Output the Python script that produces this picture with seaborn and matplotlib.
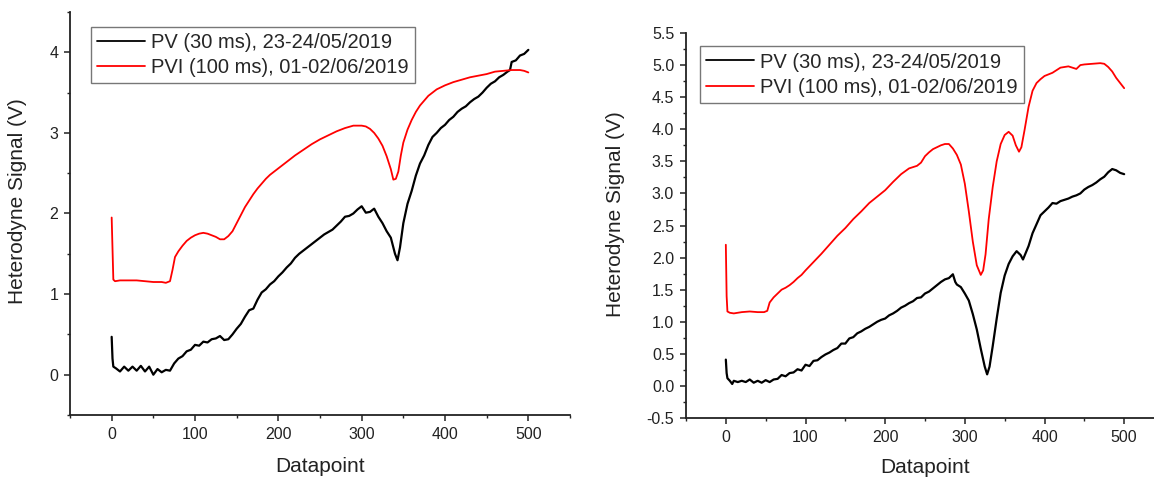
import matplotlib
matplotlib.use("Agg")
import matplotlib.pyplot as plt
import seaborn as sns
import pandas as pd
from matplotlib.ticker import MultipleLocator

# ---------------- data ----------------
labels = ["PV (30 ms), 23-24/05/2019", "PVI (100 ms), 01-02/06/2019"]
xlabel = "Datapoint"
ylabel = "Heterodyne Signal (V)"

# Left panel, PV (black)
left_pv_x = [0, 1, 2, 5, 10, 15, 20, 25, 30, 35, 40, 45, 50, 55, 60, 65, 70, 75, 80, 85,
             90, 95, 100, 105, 110, 115, 120, 125, 130, 135, 140, 145, 150, 155, 160, 165,
             170, 175, 180, 185, 190, 195, 200, 205, 210, 215, 220, 225, 230, 235, 240,
             245, 250, 255, 260, 265, 270, 275, 280, 285, 290, 295, 300, 305, 310, 315,
             320, 325, 330, 335, 340, 343, 346, 350, 355, 360, 365, 370, 375, 380, 385,
             390, 395, 400, 405, 410, 415, 420, 425, 430, 435, 440, 445, 450, 455, 460,
             465, 470, 475, 478, 480, 485, 490, 495, 500]
left_pv_y = [0.47, 0.20, 0.10, 0.08, 0.04, 0.10, 0.05, 0.10, 0.05, 0.11, 0.04, 0.10, 0.00,
             0.07, 0.03, 0.06, 0.05, 0.14, 0.20, 0.23, 0.29, 0.31, 0.37, 0.36, 0.41, 0.40,
             0.44, 0.45, 0.48, 0.43, 0.44, 0.50, 0.57, 0.63, 0.72, 0.80, 0.82, 0.93, 1.02,
             1.06, 1.12, 1.16, 1.22, 1.27, 1.33, 1.38, 1.45, 1.50, 1.54, 1.58, 1.62, 1.66,
             1.70, 1.74, 1.77, 1.80, 1.85, 1.90, 1.96, 1.97, 2.00, 2.05, 2.09, 2.01, 2.02,
             2.06, 1.96, 1.88, 1.78, 1.70, 1.50, 1.42, 1.58, 1.88, 2.12, 2.28, 2.47, 2.62,
             2.72, 2.85, 2.95, 3.00, 3.06, 3.10, 3.16, 3.20, 3.26, 3.30, 3.33, 3.38, 3.42,
             3.45, 3.50, 3.56, 3.61, 3.64, 3.69, 3.72, 3.76, 3.78, 3.88, 3.90, 3.96, 3.98,
             4.03]

# Left panel, PVI (red)
left_pvi_x = [0, 2, 4, 10, 20, 30, 40, 50, 60, 65, 70, 73, 76, 80, 85, 90, 95, 100, 105,
              110, 115, 120, 125, 130, 135, 140, 145, 150, 155, 160, 165, 170, 175, 180,
              185, 190, 195, 200, 210, 220, 230, 240, 250, 260, 270, 280, 290, 300, 305,
              310, 315, 320, 325, 330, 335, 338, 341, 344, 347, 350, 355, 360, 365, 370,
              375, 380, 385, 390, 400, 410, 420, 430, 440, 450, 460, 470, 480, 490, 495,
              500]
left_pvi_y = [1.95, 1.18, 1.16, 1.17, 1.17, 1.17, 1.16, 1.15, 1.15, 1.14, 1.16, 1.30, 1.46,
              1.53, 1.60, 1.66, 1.70, 1.73, 1.75, 1.76, 1.75, 1.73, 1.71, 1.68, 1.68, 1.72,
              1.78, 1.88, 1.98, 2.08, 2.16, 2.24, 2.31, 2.37, 2.43, 2.48, 2.52, 2.56, 2.64,
              2.72, 2.79, 2.86, 2.92, 2.97, 3.02, 3.06, 3.09, 3.09, 3.08, 3.05, 3.00, 2.93,
              2.84, 2.71, 2.55, 2.42, 2.43, 2.52, 2.72, 2.88, 3.04, 3.16, 3.26, 3.34, 3.40,
              3.46, 3.50, 3.54, 3.59, 3.63, 3.66, 3.69, 3.71, 3.73, 3.76, 3.77, 3.78, 3.78,
              3.77, 3.75]

# Right panel, PV (black)
right_pv_x = [0, 1, 2, 5, 8, 10, 15, 20, 25, 30, 35, 40, 45, 50, 55, 60, 65, 70, 75, 80,
              85, 90, 95, 100, 105, 110, 115, 120, 125, 130, 135, 140, 145, 150, 155, 160,
              165, 170, 175, 180, 185, 190, 195, 200, 205, 210, 215, 220, 225, 230, 235,
              240, 245, 250, 255, 260, 265, 270, 275, 280, 285, 288, 290, 295, 300, 305,
              310, 315, 320, 325, 328, 331, 335, 340, 345, 350, 355, 360, 365, 370, 373,
              376, 380, 385, 390, 395, 400, 405, 410, 415, 420, 425, 430, 435, 440, 445,
              450, 455, 460, 465, 470, 475, 480, 485, 490, 495, 500]
right_pv_y = [0.41, 0.20, 0.12, 0.08, 0.03, 0.08, 0.06, 0.08, 0.06, 0.10, 0.05, 0.08, 0.05,
              0.09, 0.06, 0.10, 0.11, 0.17, 0.15, 0.20, 0.21, 0.26, 0.24, 0.33, 0.31, 0.39,
              0.40, 0.45, 0.49, 0.52, 0.56, 0.59, 0.66, 0.66, 0.74, 0.76, 0.82, 0.85, 0.89,
              0.92, 0.96, 1.00, 1.03, 1.05, 1.10, 1.13, 1.17, 1.22, 1.25, 1.29, 1.32, 1.37,
              1.38, 1.44, 1.47, 1.52, 1.57, 1.62, 1.66, 1.68, 1.74, 1.62, 1.58, 1.54, 1.44,
              1.33, 1.12, 0.88, 0.58, 0.30, 0.18, 0.30, 0.62, 1.05, 1.45, 1.72, 1.90, 2.02,
              2.10, 2.04, 1.97, 2.06, 2.18, 2.38, 2.52, 2.66, 2.72, 2.78, 2.85, 2.84, 2.88,
              2.90, 2.92, 2.95, 2.97, 3.00, 3.06, 3.10, 3.13, 3.17, 3.22, 3.26, 3.33, 3.38,
              3.36, 3.32, 3.30]

# Right panel, PVI (red)
right_pvi_x = [0, 1, 2, 5, 10, 20, 30, 40, 48, 52, 55, 60, 65, 70, 75, 80, 85, 90, 95, 100,
               110, 120, 130, 140, 150, 160, 170, 180, 190, 200, 210, 220, 230, 240, 245,
               250, 255, 260, 265, 270, 275, 280, 285, 290, 295, 300, 305, 310, 315, 320,
               323, 326, 330, 335, 340, 345, 350, 355, 360, 364, 368, 371, 375, 380, 385,
               390, 395, 400, 410, 420, 430, 435, 440, 445, 450, 460, 470, 475, 480, 485,
               490, 495, 500]
right_pvi_y = [2.20, 1.40, 1.16, 1.14, 1.13, 1.15, 1.16, 1.15, 1.15, 1.17, 1.30, 1.38, 1.44,
               1.50, 1.53, 1.57, 1.62, 1.68, 1.73, 1.80, 1.93, 2.06, 2.20, 2.34, 2.46, 2.60,
               2.72, 2.85, 2.95, 3.05, 3.18, 3.30, 3.39, 3.43, 3.48, 3.58, 3.64, 3.69, 3.72,
               3.75, 3.77, 3.77, 3.70, 3.60, 3.45, 3.15, 2.72, 2.25, 1.88, 1.73, 1.80, 2.05,
               2.60, 3.10, 3.50, 3.77, 3.91, 3.96, 3.90, 3.75, 3.65, 3.72, 3.99, 4.35, 4.60,
               4.72, 4.78, 4.83, 4.88, 4.96, 4.98, 4.96, 4.94, 5.00, 5.01, 5.02, 5.03, 5.02,
               4.97, 4.90, 4.80, 4.72, 4.64]

# ---------------- style ----------------
sns.set_style("ticks")
plt.rcParams["font.family"] = ["Liberation Sans", "DejaVu Sans"]

W, H = 1154, 478
fig = plt.figure(figsize=(W / 100, H / 100), dpi=100)

def frame(l, t, r, b):
    return [l / W, 1 - b / H, (r - l) / W, (b - t) / H]

ax1 = fig.add_axes(frame(70, 12, 570, 415))
ax2 = fig.add_axes(frame(686, 33, 1164, 418))

palette = {labels[0]: "black", labels[1]: "#ff0000"}
widths = {labels[0]: 1.6, labels[1]: 1.3}

def df_of(xpv, ypv, xpvi, ypvi):
    a = pd.DataFrame({"x": xpv, "y": ypv, "series": labels[0]})
    b = pd.DataFrame({"x": xpvi, "y": ypvi, "series": labels[1]})
    return pd.concat([a, b], ignore_index=True)

panels = [
    (ax1, df_of(left_pv_x, left_pv_y, left_pvi_x, left_pvi_y), (-0.5, 4.5), 1, 0.5,
     None, (0.042, 0.963), (-0.086, 0.53), (0.5, -0.105)),
    (ax2, df_of(right_pv_x, right_pv_y, right_pvi_x, right_pvi_y), (-0.5, 5.5), 0.5, 0.25,
     "%.1f", (0.029, 0.965), (-0.128, 0.53), (0.5, -0.103)),
]

for ax, df, ylim, ymaj, ymin, fmt, legpos, ylc, xlc in panels:
    sns.lineplot(data=df, x="x", y="y", hue="series", palette=palette,
                 estimator=None, sort=False, linewidth=1.3, ax=ax)
    for line, lab in zip(ax.lines, labels):
        line.set_linewidth(widths[lab])
    ax.set_xlim(-50, 550)
    ax.set_ylim(*ylim)
    ax.xaxis.set_major_locator(MultipleLocator(100))
    ax.xaxis.set_minor_locator(MultipleLocator(50))
    ax.yaxis.set_major_locator(MultipleLocator(ymaj))
    ax.yaxis.set_minor_locator(MultipleLocator(ymin))
    if fmt:
        ax.yaxis.set_major_formatter(matplotlib.ticker.FormatStrFormatter(fmt))
    for s in ["top", "right"]:
        ax.spines[s].set_visible(False)
    for s in ["left", "bottom"]:
        ax.spines[s].set_linewidth(1.3)
        ax.spines[s].set_color("#222222")
    ax.tick_params(which="major", length=4.5, width=1.1, colors="#222222",
                   labelsize=11.5, pad=4)
    ax.tick_params(which="minor", length=2.5, width=1.0, colors="#222222")
    ax.set_xlabel(xlabel, fontsize=15, color="#222222")
    ax.set_ylabel(ylabel, fontsize=15, color="#222222")
    ax.yaxis.set_label_coords(*ylc)
    ax.xaxis.set_label_coords(*xlc)
    leg = ax.legend(loc="upper left", bbox_to_anchor=legpos, borderaxespad=0,
                    fontsize=14.5, frameon=True, fancybox=False, edgecolor="#555555",
                    handlelength=2.4, handletextpad=0.3, labelspacing=0.3,
                    borderpad=0.3, title=None)
    leg.get_frame().set_linewidth(1.0)
    for line in leg.get_lines():
        line.set_linewidth(1.3)

fig.savefig("out.png", dpi=100)
